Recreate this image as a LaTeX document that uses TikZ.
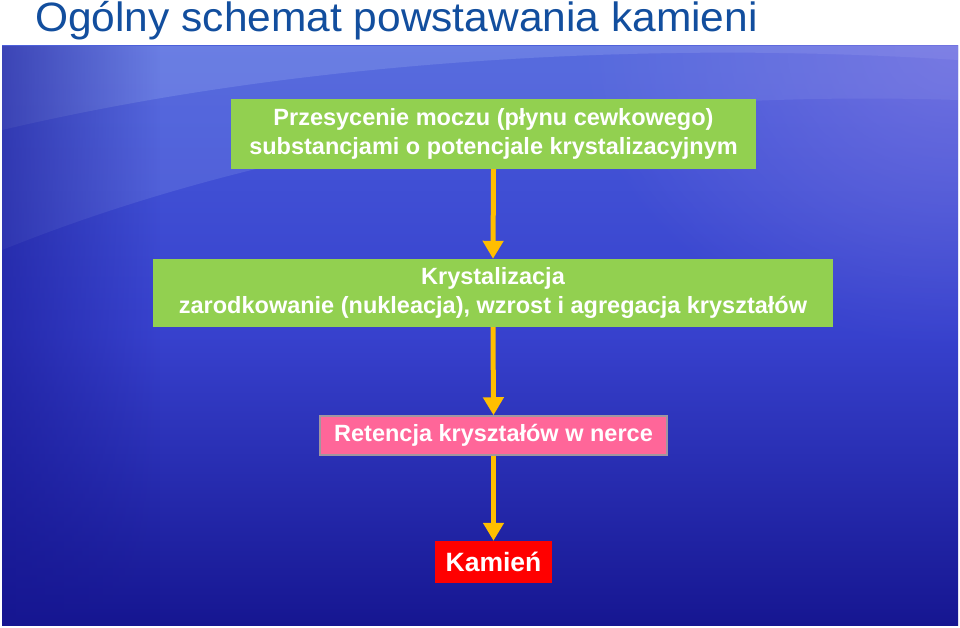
\documentclass[tikz,border=0pt]{standalone}
\usepackage{fontspec}
\setmainfont{Liberation Sans}
\usetikzlibrary{arrows.meta,positioning,fadings}
\tikzfading[name=softglow, inner color=transparent!0, outer color=transparent!100]
\definecolor{titleblue}{RGB}{18,78,158}
\definecolor{boxgreen}{RGB}{146,208,80}
\definecolor{boxpink}{RGB}{255,102,153}
\definecolor{boxred}{RGB}{255,0,0}
\definecolor{arroworange}{RGB}{255,190,0}
\definecolor{bgtop}{RGB}{72,92,218}
\definecolor{bgmid}{RGB}{55,65,205}
\definecolor{bgbot}{RGB}{22,22,145}
\definecolor{glow}{RGB}{150,170,240}
\definecolor{violet}{RGB}{140,130,230}
\tikzset{
  flowbox/.style={fill=boxgreen, inner sep=0pt, align=center, text=white, font=\bfseries\fontsize{23.5}{29}\selectfont},
  flowarrow/.style={draw=arroworange, line width=5pt, -{Triangle[width=20pt,length=18pt]}},
}
\begin{document}
\begin{tikzpicture}[x=1pt,y=-1pt]
\useasboundingbox (0,0) rectangle (960,628);
\fill[white] (0,0) rectangle (960,628);
% background
\shade[top color=bgtop, bottom color=bgbot, middle color=bgmid] (2,46) rectangle (958,625);
\begin{scope}
\clip (2,46) rectangle (958,625);
\fill[glow, opacity=0.30] (2,130) .. controls (300,60) and (650,40) .. (958,60) -- (958,46) -- (2,46) -- cycle;
\fill[glow, opacity=0.20] (2,250) .. controls (300,130) and (650,90) .. (958,100) -- (958,46) -- (2,46) -- cycle;
\fill[violet, opacity=0.6, path fading=softglow] (958,46) ellipse [x radius=380, y radius=300];
\fill[bgbot, opacity=0.55, path fading=east] (2,46) rectangle (160,625);
\end{scope}
% title
\node[anchor=base west, text=titleblue, font=\fontsize{41}{44}\selectfont, inner sep=0pt] (title) at (35,32) {\scalebox{1.036}[1]{Ogólny schemat powstawania kamieni}};
% boxes
\node[flowbox, minimum width=525pt, minimum height=70pt] (b1) at (493.5,134)
  {Przesycenie moczu (płynu cewkowego)\\substancjami o potencjale krystalizacyjnym};
\node[flowbox, minimum width=680pt, minimum height=68pt] (b2) at (493,293)
  {Krystalizacja\\zarodkowanie (nukleacja), wzrost i agregacja kryształów};
\node[flowbox, fill=boxpink, draw={rgb,255:red,160;green,150;blue,160}, line width=1.5pt, minimum width=347pt, minimum height=39pt] (b3) at (493.5,435.5)
  {Retencja kryształów w nerce};
\node[flowbox, fill=boxred, minimum width=117pt, minimum height=42pt, font=\bfseries\fontsize{26.5}{30}\selectfont] (b4) at (493.5,562)
  {Kamień};
% arrows
\draw[flowarrow] (b1.south) -- (b2.north);
\draw[flowarrow] (b2.south) -- (b3.north);
\draw[flowarrow] (b3.south) -- (b4.north);
\end{tikzpicture}
\end{document}
